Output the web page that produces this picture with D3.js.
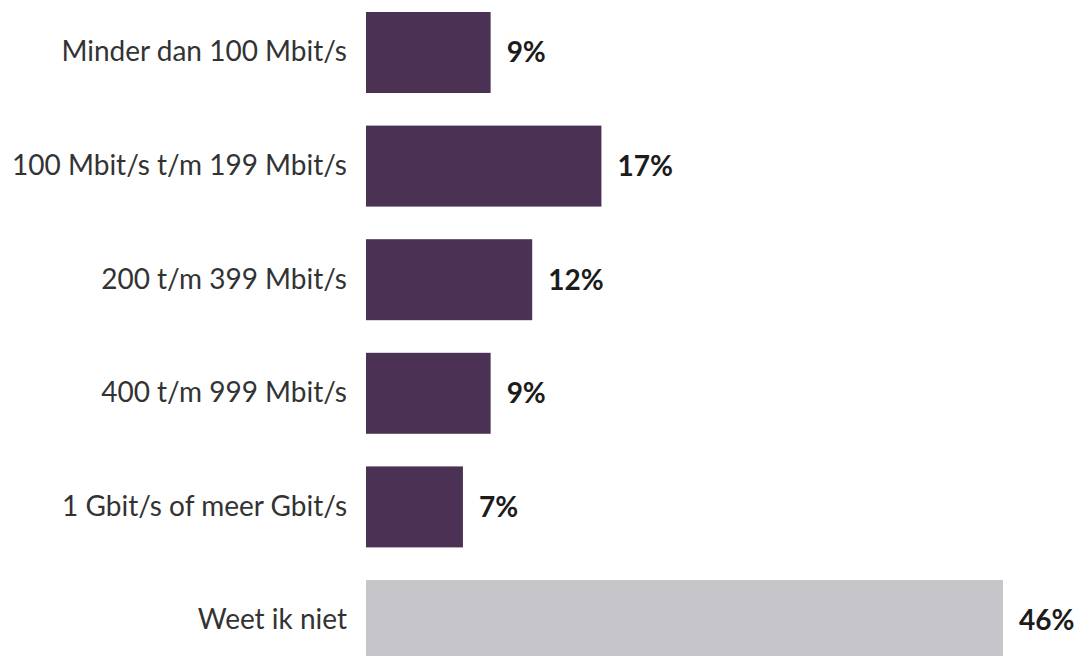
<!DOCTYPE html>
<html>
<head>
<meta charset="utf-8">
<script src="https://cdn.jsdelivr.net/npm/d3@7"></script>
<style>
  html, body { margin: 0; padding: 0; background: #ffffff; }
  svg { display: block; }
</style>
</head>
<body>
<svg id="chart" width="1079" height="656"></svg>
<script>
// Internet download speed categories and share of respondents (%)
const categories = [
  "Minder dan 100 Mbit/s",
  "100 Mbit/s t/m 199 Mbit/s",
  "200 t/m 399 Mbit/s",
  "400 t/m 999 Mbit/s",
  "1 Gbit/s of meer Gbit/s",
  "Weet ik niet"
];
const values = [9, 17, 12, 9, 7, 46];
const valueLabels = ["9%", "17%", "12%", "9%", "7%", "46%"];
const unknownCategory = "Weet ik niet";

const data = categories.map((c, i) => ({ cat: c, value: values[i], label: valueLabels[i] }));

const svg = d3.select("#chart");
const font = "Lato, 'Open Sans', sans-serif";

const x = d3.scaleLinear().domain([0, 46]).range([366, 1003]);
const y = d3.scaleBand()
  .domain(categories)
  .range([-4.3, 677.3])
  .paddingInner(0.287)
  .paddingOuter(0.1435);

// Bars
svg.selectAll("rect.bar")
  .data(data)
  .join("rect")
  .attr("class", "bar")
  .attr("x", x(0))
  .attr("y", d => y(d.cat))
  .attr("width", d => x(d.value) - x(0))
  .attr("height", y.bandwidth())
  .attr("fill", d => d.cat === unknownCategory ? "#c6c5ca" : "#4b3254");

// Category labels (left axis without line/ticks)
const axis = d3.axisLeft(y).tickSize(0).tickPadding(19);
const gAxis = svg.append("g")
  .attr("transform", `translate(${x(0)},0)`)
  .call(axis);
gAxis.select(".domain").remove();
gAxis.selectAll("text")
  .attr("font-family", font)
  .attr("font-size", 28)
  .attr("fill", "#333333");

// Value labels
svg.selectAll("text.val")
  .data(data)
  .join("text")
  .attr("class", "val")
  .attr("x", d => x(d.value) + 16)
  .attr("y", d => y(d.cat) + y.bandwidth() / 2)
  .attr("dy", "0.35em")
  .attr("font-family", font)
  .attr("font-size", 28)
  .attr("font-weight", 700)
  .attr("fill", "#1c1c1c")
  .text(d => d.label);
</script>
</body>
</html>
